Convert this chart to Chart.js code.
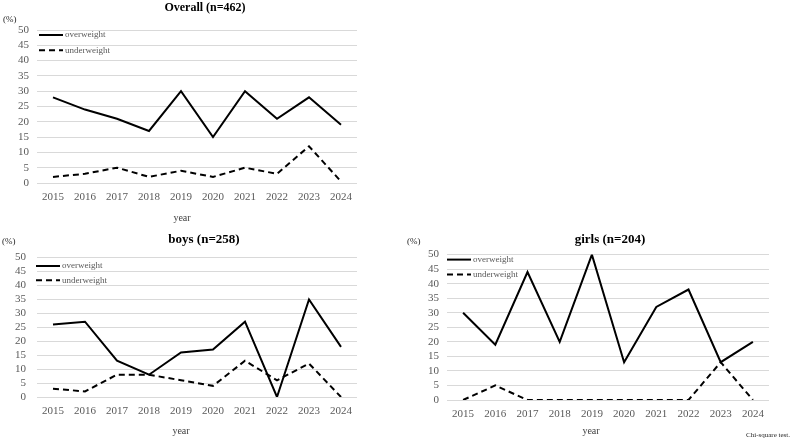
<!DOCTYPE html>
<html>
<head>
<meta charset="utf-8">
<script src="https://cdn.jsdelivr.net/npm/chart.js@4.4.1/dist/chart.umd.min.js"></script>
<style>
  body { margin: 0; background: #fff; }
  #page { position: relative; width: 792px; height: 442px; overflow: hidden; font-family: "Liberation Serif", "Times New Roman", serif; }
  canvas { position: absolute; }
  .txt { position: absolute; line-height: 1; white-space: nowrap; }
  .title { font-weight: bold; color: #000; text-align: center; width: 200px; }
  .pct { font-size: 9px; color: #262626; }
  .axis { font-size: 10px; color: #404040; text-align: center; width: 60px; }
</style>
</head>
<body>
<div id="page">
  <canvas id="overallChart" width="400" height="222" style="left:0;top:0"></canvas>
  <canvas id="boysChart" width="400" height="202" style="left:0;top:240px"></canvas>
  <canvas id="girlsChart" width="392" height="202" style="left:400px;top:240px"></canvas>

  <div class="txt title" style="left:105px;top:1px;font-size:12px">Overall (n=462)</div>
  <div class="txt title" style="left:104px;top:232px;font-size:13px">boys (n=258)</div>
  <div class="txt title" style="left:510px;top:232px;font-size:13px">girls (n=204)</div>

  <div class="txt pct" style="left:3px;top:15px">(%)</div>
  <div class="txt pct" style="left:2px;top:237px">(%)</div>
  <div class="txt pct" style="left:407px;top:237px">(%)</div>

  <div class="txt axis" style="left:152px;top:213px">year</div>
  <div class="txt axis" style="left:151px;top:426px">year</div>
  <div class="txt axis" style="left:561px;top:426px">year</div>

  <div class="txt" style="right:2px;top:432px;font-size:7px;color:#262626">Chi-square test.</div>
</div>
<script>
'use strict';

let years = ['2015', '2016', '2017', '2018', '2019', '2020', '2021', '2022', '2023', '2024'];
let seriesNames = ['overweight', 'underweight'];
let yMin = 0;
let yMax = 50;
let yStep = 5;

let overallOver = [28, 24, 21, 17, 30, 15, 30, 21, 28, 19];
let overallUnder = [2, 3, 5, 2, 4, 2, 5, 3, 12, 0.5];

let boysOver = [26, 27, 13, 8, 16, 17, 27, 0, 35, 18];
let boysUnder = [3, 2, 8, 8, 6, 4, 13, 6, 12, 0];

let girlsOver = [30, 19, 44, 20, 50, 13, 32, 38, 13, 20];
let girlsUnder = [0, 5, 0, 0, 0, 0, 0, 0, 13, 0];

let serif = '"Liberation Serif", "Times New Roman", serif';

// legend drawn inside the plot, top-left, like the original
let insideLegend = {
    id: 'insideLegend',
    afterDraw(chart, args, opts) {
        let ctx = chart.ctx;
        let area = chart.chartArea;
        ctx.save();
        chart.data.datasets.forEach(function (ds, i) {
            let x = area.left + opts.dx;
            let y = area.top + opts.dy + i * opts.gap;
            ctx.beginPath();
            ctx.setLineDash(ds.borderDash || []);
            ctx.lineWidth = 2;
            ctx.strokeStyle = ds.borderColor;
            ctx.moveTo(x, y);
            ctx.lineTo(x + 24, y);
            ctx.stroke();
            ctx.setLineDash([]);
            ctx.fillStyle = '#595959';
            ctx.font = '9px ' + serif;
            ctx.textBaseline = 'middle';
            ctx.fillText(ds.label, x + 26, y);
        });
        ctx.restore();
    }
};

function makeChart(id, overData, underData, box) {
    let ctx = document.getElementById(id).getContext('2d');
    return new Chart(ctx, {
        type: 'line',
        data: {
            labels: years,
            datasets: [{
                label: seriesNames[0],
                data: overData,
                borderColor: '#000',
                backgroundColor: '#000',
                borderWidth: 2,
                pointRadius: 0,
                tension: 0
            }, {
                label: seriesNames[1],
                data: underData,
                borderColor: '#000',
                backgroundColor: '#000',
                borderWidth: 2,
                borderDash: [6, 4],
                pointRadius: 0,
                tension: 0
            }]
        },
        options: {
            responsive: false,
            animation: false,
            devicePixelRatio: 1,
            layout: {
                padding: { top: box.top, right: box.right, bottom: 0, left: 0 }
            },
            plugins: {
                legend: { display: false },
                title: { display: false },
                tooltip: { enabled: false },
                insideLegend: box.legend
            },
            scales: {
                x: {
                    offset: true,
                    grid: { display: false, drawTicks: false },
                    border: { display: false },
                    ticks: {
                        color: '#595959',
                        padding: 8,
                        maxRotation: 0,
                        autoSkip: false,
                        font: { family: serif, size: 11 }
                    },
                    afterFit: function (scale) { scale.height = box.xHeight; }
                },
                y: {
                    min: yMin,
                    max: yMax,
                    grid: { color: '#d9d9d9', lineWidth: 1, drawTicks: false },
                    border: { display: false },
                    ticks: {
                        stepSize: yStep,
                        autoSkip: false,
                        color: '#595959',
                        padding: box.yPad,
                        font: { family: serif, size: 11 }
                    },
                    afterFit: function (scale) { scale.width = box.yWidth; }
                }
            }
        },
        plugins: [insideLegend]
    });
}

makeChart('overallChart', overallOver, overallUnder, {
    top: 30, right: 43, xHeight: 39, yWidth: 37, yPad: 8,
    legend: { dx: 2, dy: 5, gap: 15.3 }
});
makeChart('boysChart', boysOver, boysUnder, {
    top: 12, right: 43, xHeight: 45, yWidth: 37, yPad: 11,
    legend: { dx: -1, dy: 8.4, gap: 14.3 }
});
makeChart('girlsChart', girlsOver, girlsUnder, {
    top: 12, right: 23, xHeight: 42, yWidth: 47, yPad: 8,
    legend: { dx: 0, dy: 5, gap: 15 }
});
</script>
</body>
</html>
